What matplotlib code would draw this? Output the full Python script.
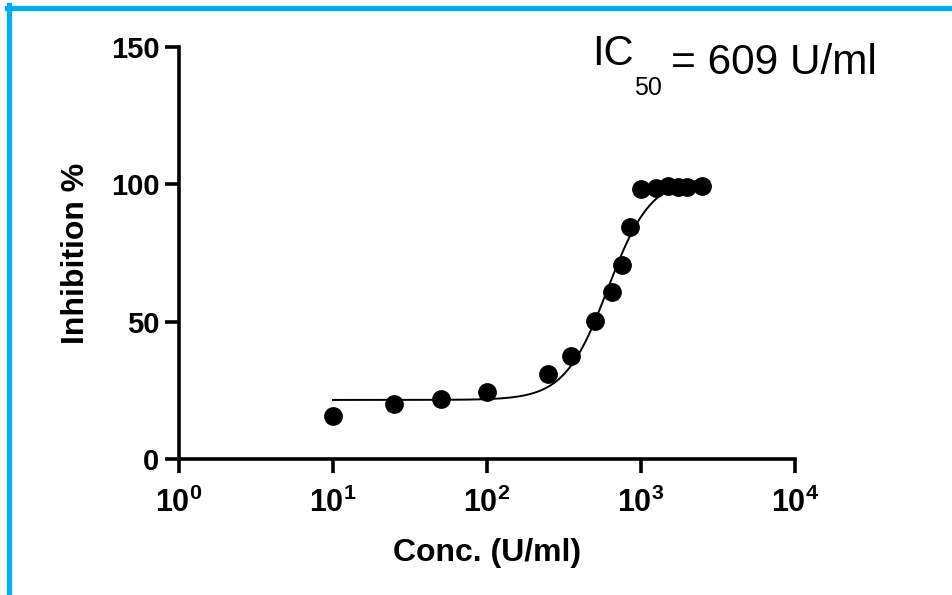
import numpy as np
import matplotlib.pyplot as plt
from matplotlib.lines import Line2D

plt.rcParams['font.family'] = ['Liberation Sans', 'DejaVu Sans']

# measured points
conc = [10, 25, 50, 100, 250, 350, 500, 650, 750, 850,
        1000, 1250, 1500, 1750, 2000, 2500]
inhibition = [15.6, 20.0, 21.8, 24.3, 30.9, 37.4, 50.1, 60.7, 70.5, 84.6,
              98.4, 98.8, 99.5, 99.2, 99.2, 99.5]

# 4PL fit parameters
bottom = 21.5
top = 102.5
ic50 = 609
hill = 3.1

x_ticks = [1, 10, 100, 1000, 10000]
x_tick_labels = [r'$\mathbf{10^{0}}$', r'$\mathbf{10^{1}}$', r'$\mathbf{10^{2}}$',
                 r'$\mathbf{10^{3}}$', r'$\mathbf{10^{4}}$']
y_ticks = [0, 50, 100, 150]

plt.rcParams['mathtext.fontset'] = 'custom'
plt.rcParams['mathtext.rm'] = 'Liberation Sans'
plt.rcParams['mathtext.bf'] = 'Liberation Sans:bold'

fig = plt.figure(figsize=(9.53, 5.95), dpi=100)
ax = fig.add_axes([0.1878, 0.2286, 0.6464, 0.6924])

xfit = np.logspace(np.log10(min(conc)), np.log10(max(conc)), 300)
yfit = bottom + (top - bottom) / (1 + (ic50 / xfit) ** hill)
ax.plot(xfit, yfit, color='black', lw=1.4, zorder=2)
ax.plot(conc, inhibition, 'o', color='black', ms=12.5, zorder=3)

ax.set_xscale('log')
ax.set_xlim(1, 10000)
ax.set_ylim(0, 150)
ax.set_xticks(x_ticks)
ax.set_xticklabels(x_tick_labels)
ax.minorticks_off()
ax.set_yticks(y_ticks)
ax.set_yticklabels([str(v) for v in y_ticks])

for s in ['top', 'right']:
    ax.spines[s].set_visible(False)
for s in ['left', 'bottom']:
    ax.spines[s].set_linewidth(2.6)
    ax.spines[s].set_capstyle('projecting')
ax.tick_params(width=2.6, length=10, labelsize=21, pad=4)
for lab in ax.get_yticklabels():
    lab.set_fontweight('bold')
ax.tick_params(axis='x', labelsize=22, pad=11)

ax.set_xlabel('Conc. (U/ml)', fontsize=23, fontweight='bold', labelpad=13)
ax.set_ylabel('Inhibition %', fontsize=23, fontweight='bold', labelpad=14)

# IC50 annotation
t1 = fig.text(592 / 953, 1 - 65 / 595, 'IC', fontsize=30, ha='left', va='baseline')
t2 = ax.annotate('50', xy=(1, 0), xycoords=t1, xytext=(0, -21),
                 textcoords='offset pixels', fontsize=18, ha='left', va='baseline')
ax.annotate('= 609 U/ml', xy=(1, 0), xycoords=(t2, t1), xytext=(10, 0),
            textcoords='offset pixels', fontsize=30.5, ha='left', va='baseline')

# blue frame at top and left
blue = '#00aeef'
fig.add_artist(Line2D([7 / 953, 1], [1 - 7.5 / 595, 1 - 7.5 / 595],
                      transform=fig.transFigure, color=blue, lw=3.8))
fig.add_artist(Line2D([9.5 / 953, 9.5 / 953], [0, 1 - 5 / 595],
                      transform=fig.transFigure, color=blue, lw=3.8))

fig.savefig('out.png', dpi=100)
